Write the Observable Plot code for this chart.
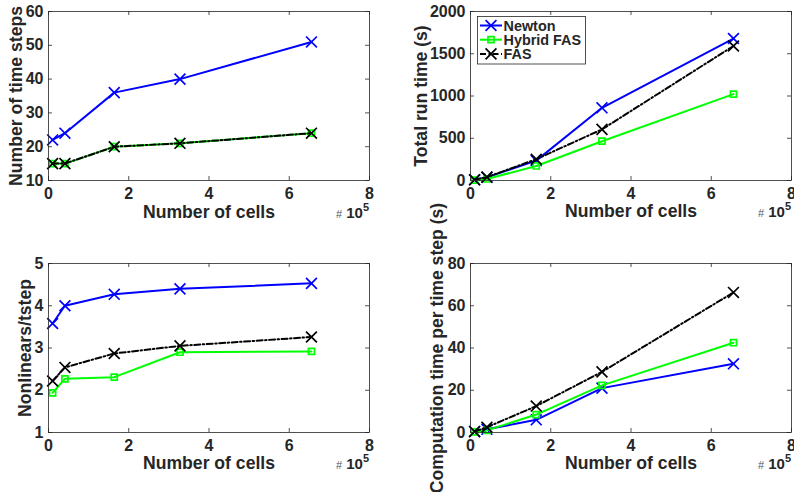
<!DOCTYPE html>
<html><head><meta charset="utf-8">
<script src="https://cdn.jsdelivr.net/npm/d3@7"></script>
<script src="https://cdn.jsdelivr.net/npm/@observablehq/plot@0.6"></script>
<style>
body{margin:0;background:#fff;}
#wrap{position:relative;width:794px;height:492px;overflow:hidden;background:#fff;}
.panel{position:absolute;}
.panel svg{overflow:visible;}
</style></head><body><div id="wrap"></div>
<script>
// ---- data ----
const cells = [10240, 40960, 163840, 327680, 655360];
const methods = ["Newton", "Hybrid FAS", "FAS"];
const timeStepsNewton = [22, 24, 36, 40, 51];
const timeStepsHybrid = [15, 15, 20, 21, 24];
const timeStepsFAS    = [15, 15, 20, 21, 24];
const runTimeNewton = [9, 38, 235, 860, 1680];
const runTimeHybrid = [5, 18, 172, 465, 1022];
const runTimeFAS    = [8, 40, 252, 605, 1592];
const nonlinNewton = [3.58, 4.0, 4.27, 4.40, 4.53];
const nonlinHybrid = [1.94, 2.27, 2.31, 2.90, 2.92];
const nonlinFAS    = [2.22, 2.54, 2.87, 3.05, 3.26];
const stepTimeNewton = [0.4, 1.5, 6.0, 21.0, 32.5];
const stepTimeHybrid = [0.3, 1.0, 8.5, 22.3, 42.5];
const stepTimeFAS    = [0.5, 2.5, 12.5, 28.7, 66.3];
const xTicks = [0, 2, 4, 6, 8];
const yTicksSteps = [10, 20, 30, 40, 50, 60];
const yTicksRun = [0, 500, 1000, 1500, 2000];
const yTicksNonlin = [1, 2, 3, 4, 5];
const yTicksStepTime = [0, 20, 40, 60, 80];
const xLabel = "Number of cells";

const ink = "#262626";
const font = "'Liberation Sans', Arial, Helvetica, sans-serif";
const styles = {
  "Newton":     {color: "#0000ff", symbol: "times",  r: 5,   dash: null},
  "Hybrid FAS": {color: "#00ff00", symbol: "square", r: 3.4, dash: null},
  "FAS":        {color: "#000000", symbol: "times",  r: 5,   dash: "6,2.5,1.5,2.5"}
};

const W = 397, H = 246;

function panel(cfg) {
  const {left, top, mt, mb, ml, mr, yDomain, yTicks, yLabel, labelDx, xLabelDy, series} = cfg;
  const fw = W - ml - mr, fh = H - mt - mb;
  const tl = 4;
  const marks = [
    Plot.tickX(xTicks, {x: d => d, insetTop: fh - tl, stroke: ink, strokeWidth: 0.8}),
    Plot.tickX(xTicks, {x: d => d, insetBottom: fh - tl, stroke: ink, strokeWidth: 0.8}),
    Plot.tickY(yTicks, {y: d => d, insetRight: fw - tl, stroke: ink, strokeWidth: 0.8}),
    Plot.tickY(yTicks, {y: d => d, insetLeft: fw - tl, stroke: ink, strokeWidth: 0.8})
  ];
  methods.forEach((m, k) => {
    const s = styles[m];
    const data = cells.map((c, i) => ({x: c / 1e5, y: series[k][i]}));
    marks.push(Plot.line(data, {x: "x", y: "y", stroke: s.color, strokeWidth: 2, strokeDasharray: s.dash}));
    marks.push(Plot.dot(data, {x: "x", y: "y", symbol: s.symbol, r: s.r, stroke: s.color, strokeWidth: 1.7, fill: "none"}));
  });
  marks.push(Plot.frame({stroke: ink, strokeWidth: 0.8}));
  marks.push(Plot.axisX({ticks: xTicks, tickSize: 0, tickPadding: 7, label: null, fontSize: 16, fontWeight: "bold", fill: ink, tickFormat: d => String(d)}));
  marks.push(Plot.axisY({ticks: yTicks, tickSize: 0, tickPadding: 5, label: null, fontSize: 16, fontWeight: "bold", fill: ink, tickFormat: d => String(d)}));
  marks.push(Plot.text([xLabel], {frameAnchor: "bottom", dy: xLabelDy, lineAnchor: "bottom", textAnchor: "middle", fontSize: 17.6, fontWeight: "bold", fill: ink}));
  marks.push(Plot.text([yLabel], {frameAnchor: "left", rotate: -90, dx: labelDx, lineAnchor: "bottom", textAnchor: "middle", fontSize: 17.6, fontWeight: "bold", fill: ink}));

  const svg = Plot.plot({
    width: W, height: H,
    marginTop: mt, marginBottom: mb, marginLeft: ml, marginRight: mr,
    x: {domain: [0, 8]},
    y: {domain: yDomain},
    style: {fontFamily: font, background: "transparent", color: ink, overflow: "visible"},
    marks
  });

  // x10^5 exponent note
  const note = d3.select(svg).append("text")
    .attr("x", W - mr).attr("y", H - mb + xLabelDy + 0.7)
    .attr("text-anchor", "end").attr("fill", ink).style("font-family", font);
  note.append("tspan").attr("font-size", 11).attr("fill", "#555").text("#");
  note.append("tspan").attr("font-size", 15).attr("font-weight", "bold").text(" 10");
  note.append("tspan").attr("font-size", 11).attr("font-weight", "bold").attr("dy", -6.7).text("5");

  const div = document.createElement("div");
  div.className = "panel";
  div.style.left = left + "px";
  div.style.top = top + "px";
  div.appendChild(svg);
  document.getElementById("wrap").appendChild(div);
  return svg;
}

panel({left: 0, top: 0, mt: 11, mb: 66, ml: 48, mr: 28,
  yDomain: [10, 60], yTicks: yTicksSteps, yLabel: "Number of time steps", labelDx: -27, xLabelDy: 37,
  series: [timeStepsNewton, timeStepsHybrid, timeStepsFAS]});

const trSvg = panel({left: 397, top: 0, mt: 11, mb: 66, ml: 73, mr: 3,
  yDomain: [0, 2000], yTicks: yTicksRun, yLabel: "Total run time (s)", labelDx: -44, xLabelDy: 36,
  series: [runTimeNewton, runTimeHybrid, runTimeFAS]});

panel({left: 0, top: 246, mt: 17, mb: 60, ml: 48, mr: 28,
  yDomain: [1, 5], yTicks: yTicksNonlin, yLabel: "Nonlinears/tstep", labelDx: -17.7, xLabelDy: 36,
  series: [nonlinNewton, nonlinHybrid, nonlinFAS]});

panel({left: 397, top: 246, mt: 17, mb: 60, ml: 73, mr: 3,
  yDomain: [0, 80], yTicks: yTicksStepTime, yLabel: "Computation time per time step (s)", labelDx: -27.4, xLabelDy: 36,
  series: [stepTimeNewton, stepTimeHybrid, stepTimeFAS]});

// legend in the top-right panel
const lg = d3.select(trSvg).append("g").style("font-family", font).attr("text-anchor", "start");
lg.append("rect").attr("x", 80.5).attr("y", 16.5).attr("width", 108).attr("height", 47.5)
  .attr("fill", "white").attr("stroke", ink).attr("stroke-width", 0.8);
methods.forEach((m, i) => {
  const s = styles[m];
  const cy = 25.5 + i * 14.2;
  lg.append("line").attr("x1", 83).attr("x2", 105).attr("y1", cy).attr("y2", cy)
    .attr("stroke", s.color).attr("stroke-width", 2).attr("stroke-dasharray", s.dash);
  lg.append("path")
    .attr("transform", `translate(94,${cy})`)
    .attr("d", d3.symbol(s.symbol === "square" ? d3.symbolSquare : d3.symbolTimes, Math.PI * s.r * s.r)())
    .attr("fill", "none").attr("stroke", s.color).attr("stroke-width", 1.7);
  lg.append("text").attr("x", 106.5).attr("y", cy + 5.2).attr("text-anchor", "start")
    .attr("font-size", 14.4).attr("font-weight", "bold").attr("fill", ink).text(m);
});
</script></body></html>
